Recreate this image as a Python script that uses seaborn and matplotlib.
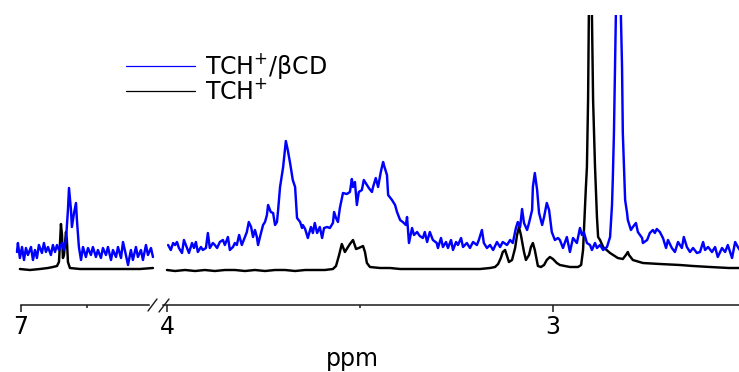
import numpy as np
import pandas as pd
import matplotlib
matplotlib.use("Agg")
import matplotlib.pyplot as plt
from matplotlib.lines import Line2D
import seaborn as sns

# ---------------- data ----------------
# Left window (aromatic region), ppm / intensity (a.u.)
left_blue_ppm = [7.030, 7.023, 7.008, 6.992, 6.977, 6.962, 6.947, 6.924, 6.909, 6.894,
                 6.879, 6.864, 6.841, 6.826, 6.811, 6.795, 6.773, 6.758, 6.742, 6.727,
                 6.712, 6.689, 6.674, 6.659, 6.644, 6.636, 6.621, 6.614, 6.598, 6.583,
                 6.576, 6.561, 6.545, 6.530, 6.508, 6.492, 6.470, 6.455, 6.432, 6.417,
                 6.394, 6.379, 6.356, 6.341, 6.318, 6.303, 6.280, 6.265, 6.242, 6.227,
                 6.205, 6.189, 6.167, 6.152, 6.129, 6.114, 6.091, 6.076, 6.053, 6.038,
                 6.015, 6.000]
left_blue_int = [53, 62, 47, 58, 45, 57, 50, 58, 45, 55,
                 47, 60, 52, 62, 53, 58, 50, 60, 53, 60,
                 55, 62, 55, 65, 95, 117, 95, 78, 92, 102,
                 85, 58, 45, 58, 48, 57, 50, 58, 48, 55,
                 47, 57, 50, 58, 45, 55, 48, 58, 47, 63,
                 50, 40, 55, 45, 58, 48, 55, 45, 60, 50,
                 57, 48]

left_black_ppm = [7.008, 6.932, 6.856, 6.795, 6.758, 6.727, 6.712, 6.705, 6.697, 6.689,
                  6.682, 6.674, 6.659, 6.652, 6.644, 6.629, 6.553, 6.402, 6.250, 6.098,
                  6.000]
left_black_int = [36, 35, 36, 37, 38, 39, 43, 60, 81, 70,
                  47, 50, 73, 65, 43, 37, 36, 36, 36, 36,
                  37]

# Right window (aliphatic region)
right_blue_ppm = [3.997, 3.990, 3.984, 3.979, 3.974, 3.969, 3.961, 3.956, 3.948, 3.943,
                  3.935, 3.930, 3.925, 3.920, 3.912, 3.907, 3.899, 3.894, 3.889, 3.881,
                  3.876, 3.870, 3.863, 3.855, 3.850, 3.842, 3.837, 3.829, 3.824, 3.819,
                  3.813, 3.806, 3.801, 3.793, 3.788, 3.782, 3.777, 3.772, 3.767, 3.764,
                  3.759, 3.751, 3.746, 3.741, 3.738, 3.731, 3.725, 3.720, 3.715, 3.712,
                  3.707, 3.699, 3.692, 3.687, 3.681, 3.674, 3.668, 3.663, 3.655, 3.650,
                  3.648, 3.642, 3.635, 3.627, 3.622, 3.617, 3.611, 3.604, 3.598, 3.593,
                  3.585, 3.578, 3.570, 3.567, 3.562, 3.557, 3.552, 3.544, 3.534, 3.526,
                  3.521, 3.518, 3.513, 3.508, 3.503, 3.495, 3.490, 3.482, 3.477, 3.469,
                  3.466, 3.459, 3.453, 3.446, 3.440, 3.438, 3.430, 3.427, 3.417, 3.409,
                  3.404, 3.396, 3.389, 3.381, 3.378, 3.373, 3.365, 3.360, 3.352, 3.345,
                  3.337, 3.332, 3.326, 3.319, 3.311, 3.301, 3.298, 3.290, 3.285, 3.277,
                  3.272, 3.264, 3.259, 3.251, 3.246, 3.238, 3.233, 3.223, 3.215, 3.207,
                  3.197, 3.192, 3.184, 3.179, 3.171, 3.163, 3.155, 3.145, 3.137, 3.130,
                  3.119, 3.111, 3.104, 3.096, 3.091, 3.085, 3.080, 3.075, 3.067, 3.062,
                  3.054, 3.052, 3.047, 3.041, 3.036, 3.028, 3.023, 3.016, 3.010, 3.003,
                  2.995, 2.987, 2.982, 2.974, 2.964, 2.956, 2.948, 2.938, 2.930, 2.925,
                  2.920, 2.912, 2.904, 2.899, 2.891, 2.886, 2.878, 2.870, 2.860, 2.852,
                  2.847, 2.845, 2.842, 2.839, 2.837, 2.834, 2.829, 2.826, 2.824, 2.821,
                  2.819, 2.813, 2.808, 2.806, 2.798, 2.793, 2.785, 2.780, 2.769, 2.767,
                  2.756, 2.749, 2.741, 2.736, 2.731, 2.723, 2.715, 2.707, 2.702, 2.692,
                  2.684, 2.676, 2.666, 2.661, 2.653, 2.645, 2.637, 2.627, 2.619, 2.611,
                  2.606, 2.598, 2.588, 2.580, 2.573, 2.562, 2.554, 2.547, 2.536, 2.528,
                  2.521, 2.516]
right_blue_int = [60, 55, 62, 60, 63, 57, 52, 65, 57, 52,
                  62, 57, 63, 53, 58, 55, 57, 72, 57, 62,
                  60, 57, 63, 65, 60, 68, 55, 58, 62, 60,
                  70, 60, 65, 73, 83, 78, 68, 75, 68, 60,
                  68, 80, 83, 90, 100, 93, 92, 80, 83, 95,
                  118, 138, 164, 155, 142, 125, 118, 87, 83, 77,
                  80, 76, 67, 78, 72, 82, 72, 78, 67, 77,
                  78, 77, 82, 93, 87, 83, 97, 112, 111, 113,
                  126, 118, 123, 100, 113, 115, 125, 120, 117, 113,
                  118, 127, 118, 133, 143, 140, 130, 110, 105, 100,
                  93, 85, 83, 80, 88, 62, 77, 70, 73, 69,
                  67, 73, 63, 73, 65, 62, 57, 67, 58, 63,
                  57, 65, 55, 63, 60, 67, 58, 62, 57, 63,
                  60, 65, 75, 62, 57, 60, 55, 63, 58, 63,
                  60, 65, 62, 77, 83, 78, 96, 82, 75, 82,
                  95, 118, 132, 115, 92, 80, 88, 102, 95, 73,
                  65, 67, 65, 57, 68, 53, 67, 62, 77, 70,
                  73, 62, 60, 55, 62, 57, 60, 55, 58, 68,
                  100, 125, 172, 238, 290, 360, 430, 360, 290, 238,
                  172, 105, 92, 85, 75, 78, 82, 73, 67, 62,
                  65, 72, 75, 72, 76, 73, 67, 57, 65, 57,
                  53, 63, 57, 68, 58, 53, 57, 52, 53, 63,
                  55, 58, 53, 58, 48, 57, 53, 60, 47, 63,
                  58, 55]

right_black_ppm = [4.000, 3.979, 3.953, 3.927, 3.902, 3.876, 3.850, 3.824, 3.798, 3.772,
                   3.746, 3.720, 3.694, 3.668, 3.642, 3.617, 3.591, 3.570, 3.562, 3.554,
                   3.547, 3.539, 3.531, 3.526, 3.518, 3.510, 3.503, 3.492, 3.487, 3.482,
                   3.474, 3.448, 3.422, 3.396, 3.345, 3.293, 3.241, 3.189, 3.163, 3.150,
                   3.142, 3.135, 3.130, 3.124, 3.119, 3.114, 3.106, 3.098, 3.093, 3.088,
                   3.083, 3.075, 3.070, 3.062, 3.057, 3.052, 3.047, 3.039, 3.031, 3.023,
                   3.016, 3.008, 3.000, 2.990, 2.982, 2.956, 2.935, 2.927, 2.922, 2.920,
                   2.915, 2.912, 2.909, 2.907, 2.903, 2.899, 2.896, 2.891, 2.886, 2.883,
                   2.878, 2.870, 2.852, 2.832, 2.819, 2.811, 2.806, 2.803, 2.793, 2.767,
                   2.723, 2.671, 2.637, 2.593, 2.544, 2.516]
right_black_int = [35, 34, 35, 34, 35, 34, 35, 35, 34, 35,
                   34, 35, 35, 34, 35, 35, 35, 36, 39, 50,
                   61, 53, 58, 61, 65, 56, 57, 59, 53, 42,
                   38, 37, 37, 36, 36, 36, 36, 36, 37, 38,
                   41, 47, 53, 55, 49, 43, 45, 57, 70, 78,
                   70, 53, 45, 50, 58, 62, 55, 39, 38, 40,
                   45, 48, 46, 42, 40, 38, 38, 40, 55, 72,
                   115, 138, 205, 290, 700, 290, 205, 138, 88, 68,
                   65, 58, 52, 47, 46, 50, 53, 50, 45, 42,
                   41, 40, 39, 38, 37, 37]

series_labels = ["TCH$^{+}$/\u03b2CD", "TCH$^{+}$"]
series_colors = ["#0000ff", "#000000"]

# ---------------- figure ----------------
sns.set_theme(style="white")
plt.rcParams["font.family"] = ["DejaVu Sans"]
plt.rcParams["mathtext.fontset"] = "dejavusans"

FS = 17
W, H = 739, 372
fig = plt.figure(figsize=(W / 100, H / 100), dpi=100)
fig.patch.set_facecolor("white")

bottom = (H - 305) / H
height = 290 / H
axL = fig.add_axes([15 / W, bottom, 141 / W, height])
axR = fig.add_axes([160 / W, bottom, 579 / W, height])

lw = 1.75
dfLb = pd.DataFrame({"ppm": left_blue_ppm, "I": left_blue_int})
dfLk = pd.DataFrame({"ppm": left_black_ppm, "I": left_black_int})
dfRb = pd.DataFrame({"ppm": right_blue_ppm, "I": right_blue_int})
dfRk = pd.DataFrame({"ppm": right_black_ppm, "I": right_black_int})

for ax, dfb, dfk in [(axL, dfLb, dfLk), (axR, dfRb, dfRk)]:
    sns.lineplot(data=dfk, x="ppm", y="I", ax=ax, color=series_colors[1],
                 linewidth=lw, estimator=None)
    sns.lineplot(data=dfb, x="ppm", y="I", ax=ax, color=series_colors[0],
                 linewidth=lw, estimator=None)
    ax.set_ylim(0, 290)
    ax.set_facecolor("none")
    for s in ["left", "right", "top"]:
        ax.spines[s].set_visible(False)
    ax.spines["bottom"].set_color("#1a1a1a")
    ax.spines["bottom"].set_linewidth(1.1)
    ax.set_yticks([])
    ax.set_xlabel("")
    ax.set_ylabel("")
    ax.tick_params(axis="x", which="major", direction="out", length=5, width=1.1,
                   color="#1a1a1a", labelsize=FS, labelcolor="black", pad=2.5,
                   bottom=True)
    ax.tick_params(axis="x", which="minor", direction="out", length=2.5, width=1.1,
                   color="#1a1a1a", bottom=True)

axL.set_xlim(7.045, 5.977)
axL.set_xticks([7])
axL.set_xticklabels(["7"])
axL.set_xticks([6.5], minor=True)
axL.spines["bottom"].set_bounds(7.0, 6.03)

axR.set_xlim(4.018, 2.518)
axR.set_xticks([4, 3])
axR.set_xticklabels(["4", "3"])
axR.set_xticks([3.5], minor=True)
axR.spines["bottom"].set_bounds(4.01, 2.518)

# axis-break marks
def fx(px):
    return px / W

def fy(py):
    return (H - py) / H

for (x0, y0, x1, y1) in [(148, 311, 157, 299), (159, 312, 169, 299)]:
    fig.add_artist(Line2D([fx(x0), fx(x1)], [fy(y0), fy(y1)], color="#1a1a1a",
                          linewidth=1.0, transform=fig.transFigure))

fig.text(fx(352), fy(366), "ppm", ha="center", va="baseline", fontsize=FS,
         color="black")

handles = [Line2D([], [], color=series_colors[0], linewidth=0.9),
           Line2D([], [], color=series_colors[1], linewidth=0.9)]
fig.legend(handles, series_labels, loc="upper left",
           bbox_to_anchor=(fx(126), fy(51)), frameon=False, fontsize=FS,
           handlelength=2.92, handletextpad=0.42, labelspacing=-0.08,
           borderaxespad=0, borderpad=0, labelcolor="black")

fig.savefig("out.png", dpi=100)
